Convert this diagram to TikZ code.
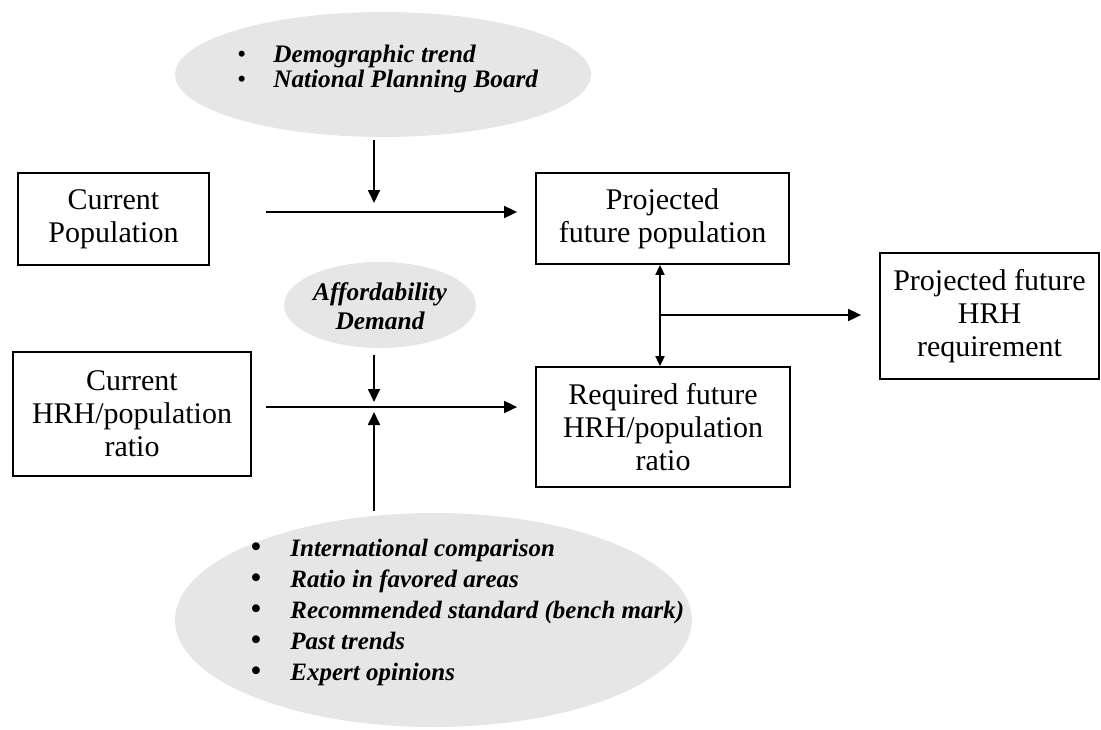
\documentclass[tikz,border=0pt]{standalone}
\usepackage{fontspec}
\setmainfont{Liberation Serif}
\usetikzlibrary{shapes.geometric,arrows.meta}

\definecolor{cloudgray}{RGB}{230,230,230}
\newcommand\blt[1]{\makebox[18pt][l]{\mdseries\upshape\textbullet}#1}
\newcommand\bltbig[1]{\makebox[20pt][l]{\mdseries\upshape\smash{\raisebox{-0.1ex}{\scalebox{1.3}{\textbullet}}}}#1}

\begin{document}
\begin{tikzpicture}[
  x=0.5pt,y=-0.5pt,
  box/.style={
    draw,
    rectangle,
    line width=0.9pt,
    align=center,
    inner sep=0pt,
    font=\fontsize{15}{16.5}\selectfont,
  },
  blob/.style={
    ellipse,
    fill=cloudgray,
    inner sep=0pt,
  },
  note/.style={
    inner sep=0pt,
    align=left,
  },
  arr/.style={-{Triangle[length=6.5pt,width=6pt]},line width=0.9pt},
  arrboth/.style={{Triangle[length=5pt,width=4.5pt]}-{Triangle[length=5pt,width=4.5pt]},line width=0.9pt},
]
\useasboundingbox (0,0) rectangle (1101,729);

\node[blob,minimum width=208pt,minimum height=62.5pt] at (383,74.5) (demog) {};
\node[note,anchor=west,font=\fontsize{12.6}{11}\selectfont\bfseries\itshape] at (237,69) (demogtxt) {\blt{Demographic trend}\\\blt{National Planning Board}};

\node[box,minimum width=95.5pt,minimum height=46pt] at (113.5,219) (curpop) {Current\\Population};
\node[box,minimum width=126.5pt,minimum height=45.5pt] at (662.5,218.5) (projpop) {Projected\\future population};

\node[blob,minimum width=96pt,minimum height=43pt] at (380,305) (afford) {};
\node[note,align=center,font=\fontsize{12.7}{14.5}\selectfont\bfseries\itshape] at (380,306) (affordtxt) {Affordability\\Demand};

\node[box,minimum width=119pt,minimum height=62pt] at (132,414) (curratio) {Current\\HRH/population\\ratio};
\node[box,minimum width=127pt,minimum height=60pt] at (663,427) (reqratio) {Required future\\HRH/population\\ratio};
\node[box,minimum width=109.5pt,minimum height=63pt] at (989.5,316) (hrhreq) {Projected future\\HRH\\requirement};

\node[blob,minimum width=258.5pt,minimum height=107pt] at (433.5,620) (crit) {};
\node[note,anchor=west,font=\fontsize{12.5}{15.5}\selectfont\bfseries\itshape] at (250,612) (crittxt) {\bltbig{International comparison}\\\bltbig{Ratio in favored areas}\\\bltbig{Recommended standard (bench mark)}\\\bltbig{Past trends}\\\bltbig{Expert opinions}};

\coordinate (j1) at (374,212);
\coordinate (j2) at (374,407);
\coordinate (j3) at (660,315);

\path[draw,arr,shorten <=28pt,shorten >=9pt] (curpop.east |- j1) -- (projpop.west |- j1);
\path[draw,arr,shorten <=1.5pt,shorten >=4.5pt] (demog.south -| j1) -- (j1);
\path[draw,arr,shorten <=7pt,shorten >=9pt] (curratio.east |- j2) -- (reqratio.west |- j2);
\path[draw,arr,shorten <=3.5pt,shorten >=2.5pt] (afford.south -| j2) -- (j2);
\path[draw,arr,shorten <=1pt,shorten >=2.5pt] (crit.north -| j2) -- (j2);
\path[draw,arrboth] (projpop.south -| j3) -- (reqratio.north -| j3);
\path[draw,arr,shorten >=9pt] (j3) -- (hrhreq.west |- j3);
\end{tikzpicture}
\end{document}
